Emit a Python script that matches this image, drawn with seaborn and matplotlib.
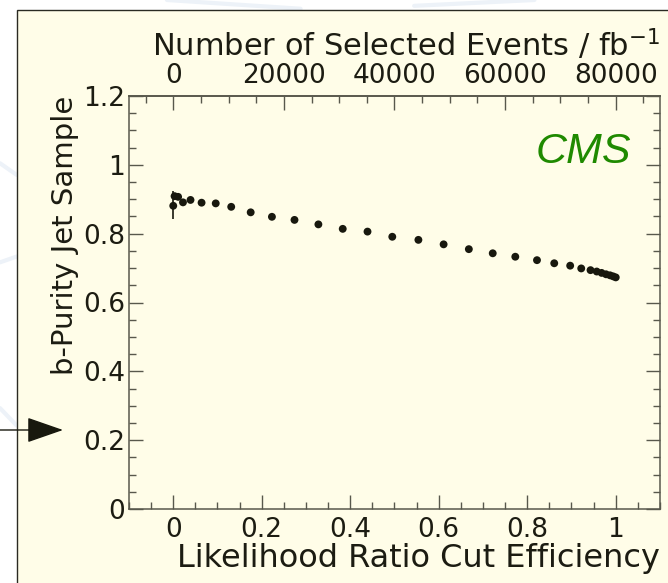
import matplotlib
matplotlib.use('Agg')
import matplotlib.pyplot as plt
import seaborn as sns
import numpy as np
import pandas as pd
from matplotlib.patches import Rectangle
from matplotlib.ticker import MultipleLocator

# ---- data ----
efficiency = [0.000, 0.003, 0.011, 0.022, 0.039, 0.064, 0.096, 0.131, 0.175, 0.223,
              0.274, 0.328, 0.383, 0.439, 0.495, 0.554, 0.611, 0.668, 0.722, 0.773,
              0.822, 0.861, 0.897, 0.922, 0.943, 0.957, 0.968, 0.978, 0.987, 0.994, 1.000]
purity = [0.881, 0.909, 0.907, 0.891, 0.898, 0.890, 0.888, 0.878, 0.862, 0.849,
          0.840, 0.827, 0.814, 0.806, 0.791, 0.782, 0.769, 0.755, 0.743, 0.733,
          0.723, 0.714, 0.707, 0.699, 0.694, 0.690, 0.686, 0.682, 0.679, 0.676, 0.673]
err_eff = [0.000, 0.003]
err_pur = [0.883, 0.909]
err_size = [0.040, 0.008]

events_total = 80000
x_ticks = [0, 0.2, 0.4, 0.6, 0.8, 1.0]
x_tick_labels = ['0', '0.2', '0.4', '0.6', '0.8', '1']
y_ticks = [0, 0.2, 0.4, 0.6, 0.8, 1.0, 1.2]
y_tick_labels = ['0', '0.2', '0.4', '0.6', '0.8', '1', '1.2']
top_ticks = [0, 20000, 40000, 60000, 80000]
top_tick_labels = ['0', '20000', '40000', '60000', '80000']

x_label = 'Likelihood Ratio Cut Efficiency'
y_label = 'b-Purity Jet Sample'
top_label = 'Number of Selected Events / fb$^{-1}$'
badge = 'CMS'

df = pd.DataFrame({'eff': efficiency, 'pur': purity})

sns.set_theme(style='ticks')
plt.rcParams['font.family'] = ['DejaVu Sans']
plt.rcParams['mathtext.fontset'] = 'dejavusans'

W, H = 668, 583
fig = plt.figure(figsize=(W / 100, H / 100), dpi=100)
fig.patch.set_facecolor('white')

cream = '#fffde8'
axis_col = '#58584c'
text_col = '#1c1c12'

# faint background swirls outside the panel
for (x0, y0, x1, y1) in [(0.0, 0.72, 0.025, 0.70), (0.0, 0.55, 0.025, 0.56),
                         (0.0, 0.30, 0.025, 0.27), (0.25, 1.0, 0.45, 0.985),
                         (0.62, 0.99, 0.80, 1.0)]:
    fig.add_artist(plt.Line2D([x0, x1], [y0, y1], transform=fig.transFigure,
                              color='#edf2f8', lw=3, zorder=0))

panel = Rectangle((17 / W, -0.05), 1.1, 1 - 10 / H + 0.05, transform=fig.transFigure,
                  facecolor=cream, edgecolor='#2a2a22', lw=1.0, zorder=1)
fig.add_artist(panel)

ax = fig.add_axes([129 / W, 1 - 509 / H, 531 / W, 413 / H])
ax.set_facecolor(cream)
ax.set_zorder(2)

sns.scatterplot(data=df, x='eff', y='pur', ax=ax, s=32, color='#18180e',
                edgecolor='none', zorder=3, legend=False)
ax.errorbar(err_eff, err_pur, yerr=err_size, fmt='none', ecolor='#18180e',
            elinewidth=1.2, capsize=0, zorder=3)

ax.set_xlim(-0.1, 1.1)
ax.set_ylim(0, 1.2)
ax.set_xticks(x_ticks)
ax.set_xticklabels(x_tick_labels)
ax.set_yticks(y_ticks)
ax.set_yticklabels(y_tick_labels)
ax.xaxis.set_minor_locator(MultipleLocator(0.05))
ax.yaxis.set_minor_locator(MultipleLocator(0.05))

for sp in ax.spines.values():
    sp.set_color(axis_col)
    sp.set_linewidth(1.1)

ax.tick_params(axis='both', which='both', direction='in', colors=axis_col,
               labelcolor=text_col, labelsize=19, width=1.0)
ax.tick_params(axis='both', which='major', length=10)
ax.tick_params(axis='both', which='minor', length=5)
ax.tick_params(axis='x', which='both', top=False, bottom=True, pad=6)
ax.tick_params(axis='y', which='both', left=True, right=True, pad=3)

ax.set_xlabel(x_label, fontsize=23, color=text_col, loc='right', labelpad=0)
ax.set_ylabel(y_label, fontsize=21, color=text_col, loc='top', labelpad=3)

sec = ax.secondary_xaxis('top', functions=(lambda v: v * events_total,
                                           lambda v: v / events_total))
sec.set_xticks(top_ticks)
sec.set_xticklabels(top_tick_labels)
sec.xaxis.set_minor_locator(MultipleLocator(5000))
sec.tick_params(axis='x', which='both', direction='in', colors=axis_col,
                labelcolor=text_col, labelsize=19, width=1.0, pad=5)
sec.tick_params(axis='x', which='major', length=10)
sec.tick_params(axis='x', which='minor', length=5)
sec.spines['top'].set_color(axis_col)
sec.set_xlabel(top_label, fontsize=22, color=text_col, loc='right', labelpad=5)

ax.text(0.855, 0.864, badge, transform=ax.transAxes, ha='center', va='center',
        fontsize=31, color='#1f8a00', style='italic',
        family=['Liberation Sans', 'DejaVu Sans'])

# arrow on the left pointing at the axis
ax.annotate('', xy=(63, H - 430), xycoords='figure pixels',
            xytext=(0, H - 430), textcoords='figure pixels',
            arrowprops=dict(arrowstyle='-|>,head_length=1.15,head_width=0.4',
                            mutation_scale=20, color='#18180e', lw=1.0,
                            shrinkA=0, shrinkB=0),
            annotation_clip=False)

fig.savefig('out.png', dpi=100, facecolor=fig.get_facecolor())
